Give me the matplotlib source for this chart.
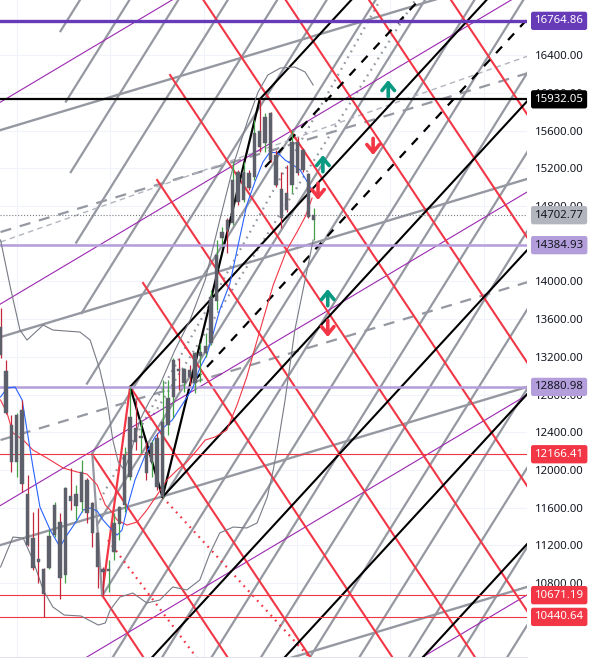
import matplotlib
matplotlib.use("Agg")
from matplotlib import pyplot as plt
import numpy as np

plt.rcParams['font.family'] = ['Noto Sans', 'DejaVu Sans']

# ---- candles (one entry per bar) ----
opens = [13516, 13049, 12476, 12084, 12636, 11744, 11277, 11055, 10949, 10959,
         11309, 11447, 10885, 11723, 11617, 11659, 11893, 11649, 11331, 10949,
         10927, 11129, 11426, 11628, 11925, 12445, 12338, 12190, 12084, 12338,
         11712, 12476, 12773, 13071, 12922, 13060, 12922, 13208, 13240, 13346,
         13792, 14460, 14651, 14620, 15161, 14864, 15150, 15108, 15596, 15468,
         15787, 15341, 14980, 14938, 15023, 15479, 15394, 15139, 14651]
highs = [13718, 13166, 12582, 12600, 12742, 11946, 11553, 11596, 10960, 11362,
         11659, 11543, 11819, 12020, 11840, 12105, 11914, 11660, 11340, 10970,
         11044, 11543, 11620, 12243, 12881, 12742, 12529, 12296, 12317, 12392,
         12954, 12954, 13187, 13187, 13081, 13113, 13250, 13346, 13452, 13909,
         14439, 14577, 14673, 15267, 15182, 15267, 15182, 15712, 15932, 15787,
         15797, 15394, 15161, 15235, 15606, 15532, 15415, 15150, 14779]
lows = [13190, 12590, 11978, 11925, 11765, 11190, 10938, 10800, 10441, 10950,
        11288, 10630, 10800, 11575, 11468, 11553, 11437, 11182, 10747, 10671,
        10705, 11044, 11256, 11553, 11893, 12211, 12179, 11893, 11925, 11787,
        11702, 12370, 12551, 12848, 12827, 12901, 12816, 12933, 13198, 13325,
        13697, 14386, 14301, 14600, 14811, 14842, 14970, 15076, 15373, 15373,
        15267, 15002, 14566, 14736, 14938, 15129, 15161, 14673, 14439]
closes = [13219, 12604, 12084, 12582, 11850, 11203, 10959, 11023, 10683, 11299,
          11628, 10853, 11808, 11670, 11744, 11978, 11543, 11331, 10970, 10917,
          10949, 11437, 11606, 12158, 12561, 12296, 12360, 11967, 12285, 11819,
          12508, 12763, 13166, 13049, 13071, 12986, 13240, 13251, 13315, 13834,
          14280, 14524, 14545, 15076, 14842, 15161, 14991, 15575, 15426, 15744,
          15288, 15023, 14673, 14758, 15479, 15150, 15182, 14683, 14703]

# ---- indicator lines (bar, price) ----
fast_x = [0, 1.2, 2.7, 4.0, 4.9, 6.0, 7.3, 9.2, 11.0, 12.3, 14.2, 15.3, 16.6, 17.9,
          19.0, 20.3, 21.6, 22.5, 23.6, 24.9, 26.8, 28.6, 30.1, 31.8, 33.6, 35.6,
          36.9, 38.2, 39.3, 40.6, 42.5, 44.0, 45.6, 47.1, 48.6, 49.9, 51.4, 52.7,
          54.2, 55.5, 56.6, 57.7]
fast_y = [12773, 12869, 12880, 12742, 12423, 12031, 11606, 11362, 11182, 11309,
          11468, 11575, 11596, 11564, 11468, 11384, 11309, 11362, 11628, 11893,
          12158, 12349, 12445, 12529, 12689, 12869, 13081, 13219, 13431, 13697,
          13983, 14386, 14811, 15055, 15267, 15373, 15362, 15288, 15235, 15182,
          15076, 14970]
slow_x = [0, 1.2, 2.3, 4.2, 6.0, 8.6, 11.6, 14.2, 16.0, 17.9, 19.4, 20.3, 21.6,
          23.4, 25.3, 27.1, 29.0, 30.8, 32.7, 34.5, 36.4, 37.9, 39.7, 41.9, 43.8,
          45.6, 47.1, 48.6, 50.5, 53.0, 54.9, 56.4, 57.7]
slow_y = [12742, 12604, 12392, 12317, 12211, 12126, 12020, 11978, 11956, 11840,
          11628, 11575, 11468, 11415, 11447, 11575, 11734, 11893, 11999, 12084,
          12211, 12317, 12349, 12423, 12689, 12986, 13293, 13590, 13962, 14333,
          14524, 14683, 14885]
upper_x = [0, 1.8, 3.6, 4.9, 7.9, 9.7, 14.7, 16.6, 18.4, 19.7, 20.8, 21.8, 22.9,
           24.0, 25.8, 27.7, 29.5, 32.3, 35.1, 37.9, 40.6, 43.4, 45.8, 47.7, 49.5,
           51.8, 54.5, 56.4, 57.9]
upper_y = [14439, 13941, 13484, 13378, 13537, 13484, 13463, 13378, 13060, 12742,
           12317, 12084, 11999, 12158, 12529, 12742, 12901, 13272, 13590, 14015,
           14651, 15288, 15712, 16010, 16190, 16264, 16275, 16222, 16084]
lower_x = [0, 2.3, 4.2, 6.0, 7.9, 9.7, 11.8, 14.9, 18.1, 19.4, 20.3, 22.1, 24.5,
           27.1, 29.5, 31.9, 34.5, 36.9, 38.8, 40.6, 43.1, 45.6, 47.5, 49.4, 50.5,
           51.2, 52.7, 54.5, 56.4, 57.9]
lower_y = [10970, 11288, 11277, 11044, 10726, 10545, 10460, 10450, 10354, 10376,
           10514, 10651, 10694, 10588, 10620, 10758, 10726, 10832, 11118, 11331,
           11394, 11384, 11437, 11712, 11999, 12211, 12742, 13484, 14015, 14439]

# ---- drawing tools: anchor points (bar, price) ----
black_rays = [(48, 15932), (24, 12881), (30, 11712)]
black_full = [(55.5, 11718), (74, 11341), (92.5, 10901)]
black_dashed = [(49, 15214), (36, 12954)]
black_zigzag = [(24, 12881), (30, 11712), (48, 15932)]
black_slope = 62.2

red_rays = [(18.8, 10671), (17, 12166), (24, 12881), (26.4, 13983), (29, 15076),
            (31.4, 16190), (34, 17293), (36.4, 18397), (39, 19500), (41.4, 20600)]
red_slope = -86
red_dotted = [((30, 11712), -62.5), ((19.9, 11256), -76)]
red_zigzag = [(18.8, 10671), (24, 12881)]
grey_zigzag = [(17, 12166), (18.8, 10671)]

steep_starts = [(11.0, 16646), (12.0, 15898), (12.9, 15150), (13.9, 14402),
                (14.9, 13654), (15.9, 12906), (16.8, 12158), (17.8, 11410),
                (18.8, 10662), (19.7, 9914), (20.7, 9166), (21.7, 8418),
                (22.7, 7670), (23.6, 6922), (24.6, 6174), (25.6, 5426),
                (26.6, 4678), (27.5, 3930)]
steep_slope = 91.7

purple_lines = [(0, 15903), (37, 15023), (55.5, 13516), (55.5, 11362), (92.5, 10503)]
purple_slope = 34.1
shallow_lines = [(0, 15606), (0, 13410), (0, 11203), (74, 10354)]
shallow_slope = 17.2
grey_dashed = [((0, 14524), (97.7, 16211)), ((0, 12317), (97.7, 13994))]
light_dashed = [((0, 14418), (97.7, 16392))]
grey_dotted = [((18.4, 11681), (70.3, 16986)), ((27.7, 12529), (76.8, 16986))]

# ---- horizontal levels ----
level_prices = [16764.86, 15932.05, 14702.77, 14384.93, 12880.98, 12166.41, 10671.19, 10440.64]
level_colors = ['#673ab7', '#000000', '#787b86', '#b39ddb', '#b39ddb', '#f23645', '#f23645', '#f23645']
level_widths = [2.4, 1.6, 0.8, 1.8, 1.8, 0.8, 0.8, 0.8]
level_styles = ['-', '-', ':', '-', '-', '-', '-', '-']
label_text_colors = ['white', 'white', '#131722', '#131722', '#131722', 'white', 'white', 'white']
label_bg = ['#673ab7', '#000000', '#b2b5be', '#b39ddb', '#b39ddb', '#f23645', '#f23645', '#f23645']

up_arrows = [(71.8, 16137), (59.7, 15341), (60.6, 13919)]
down_arrows = [(69.0, 15341), (58.8, 14864), (60.6, 13410)]

price_ticks = list(range(10800, 16401, 400))
time_grid = [3.0, 20.3, 37.6, 54.9, 72.2, 89.6]

X_MIN, X_MAX = -0.1, 97.5
Y_MIN, Y_MAX = 10015, 16986

fig = plt.figure(figsize=(5.96, 6.64), dpi=100)
ax = fig.add_axes([0, 7 / 664, 527 / 596, 657 / 664])
ax.set_xlim(X_MIN, X_MAX)
ax.set_ylim(Y_MIN, Y_MAX)


def ray(start, slope, **kw):
    x0, y0 = start
    xs = np.array([x0, X_MAX + 5])
    ax.plot(xs, y0 + slope * (xs - x0), **kw)


def full(anchor, slope, **kw):
    x0, y0 = anchor
    xs = np.array([X_MIN - 5, X_MAX + 5])
    ax.plot(xs, y0 + slope * (xs - x0), **kw)


# grid
for p in price_ticks:
    ax.axhline(p, color='#f0f3fa', lw=0.8, zorder=0)
for t in time_grid:
    ax.axvline(t, color='#f0f3fa', lw=0.8, zorder=0)

grey = '#9598a1'
for s in steep_starts:
    ray(s, steep_slope, color=grey, lw=1.6, zorder=1, solid_capstyle='butt')
for a in shallow_lines:
    full(a, shallow_slope, color=grey, lw=1.7, zorder=1)
for a, b in grey_dashed:
    ax.plot([a[0], b[0]], [a[1], b[1]], color=grey, lw=1.6, ls=(0, (5, 4)), zorder=1)
for a, b in light_dashed:
    ax.plot([a[0], b[0]], [a[1], b[1]], color='#b2b5be', lw=1.0, ls=(0, (4, 3)), zorder=1)
for a, b in grey_dotted:
    ax.plot([a[0], b[0]], [a[1], b[1]], color=grey, lw=1.6, ls=(0, (0.8, 2.2)), zorder=1)
for a in purple_lines:
    full(a, purple_slope, color='#9c27b0', lw=0.8, zorder=2)

for s in red_rays:
    ray(s, red_slope, color='#f23645', lw=1.5, zorder=2)
for s, sl in red_dotted:
    ray(s, sl, color='#f23645', lw=1.6, ls=(0, (0.8, 2.2)), zorder=2)
ax.plot(*zip(*red_zigzag), color='#f23645', lw=1.6, zorder=2)
ax.plot(*zip(*grey_zigzag), color=grey, lw=1.6, zorder=2)

for s in black_rays:
    ray(s, black_slope, color='black', lw=1.5, zorder=3)
for a in black_full:
    full(a, black_slope, color='black', lw=1.5, zorder=3)
for s in black_dashed:
    ray(s, black_slope, color='black', lw=1.6, ls=(0, (4, 4)), zorder=3)
ax.plot(*zip(*black_zigzag), color='black', lw=1.6, zorder=3)

# horizontal levels
for p, c, w, st in zip(level_prices, level_colors, level_widths, level_styles):
    ax.axhline(p, color=c, lw=w, ls=st, zorder=3)

# indicators
ax.plot(upper_x, upper_y, color='#787b86', lw=0.8, zorder=4)
ax.plot(lower_x, lower_y, color='#787b86', lw=0.8, zorder=4)
ax.plot(slow_x, slow_y, color='#f23645', lw=0.8, zorder=4)
ax.plot(fast_x, fast_y, color='#2962ff', lw=0.8, zorder=4)

# candles
bars = np.arange(len(opens))
o = np.array(opens); c = np.array(closes)
up = c >= o
wick_colors = np.where(up, '#43a047', '#c2283a')
ax.vlines(bars, lows, highs, colors=wick_colors, lw=0.9, zorder=5)
ax.bar(bars, np.maximum(np.abs(c - o), 8), bottom=np.minimum(o, c), width=0.62,
       color='#5d606b', edgecolor='#5d606b', lw=0.3, zorder=6)

# arrows
arrow_style = '->,head_length=0.55,head_width=0.45'
for x, y in up_arrows:
    ax.annotate('', xy=(x, y), xytext=(0, -12), textcoords='offset points',
                arrowprops=dict(arrowstyle=arrow_style, color='#089981', lw=2.6,
                                shrinkA=0, shrinkB=0), zorder=7)
for x, y in down_arrows:
    ax.annotate('', xy=(x, y), xytext=(0, 12), textcoords='offset points',
                arrowprops=dict(arrowstyle=arrow_style, color='#f23645', lw=2.6,
                                shrinkA=0, shrinkB=0), zorder=7)

# axes styling
for side in ['top', 'left', 'right']:
    ax.spines[side].set_visible(False)
ax.spines['bottom'].set_color('#e0e3eb')
ax.set_xticks(time_grid)
ax.set_xticklabels([])
ax.tick_params(axis='x', length=0)
ax.yaxis.tick_right()
ax.set_yticks(price_ticks)
ax.set_yticklabels([f'{p:.2f}' for p in price_ticks], fontsize=8.2, color='#131722')
ax.tick_params(axis='y', length=0, pad=6)

# price labels
for p, tc, bg in zip(level_prices, label_text_colors, label_bg):
    ax.annotate(f'{p:.2f}', xy=(1, p), xycoords=('axes fraction', 'data'),
                xytext=(5.5, 0), textcoords='offset points', ha='left', va='center',
                fontsize=8.2, color=tc, zorder=10, annotation_clip=False,
                bbox=dict(boxstyle='round,pad=0.32,rounding_size=0.2', fc=bg, ec='none'))

fig.savefig('out.png', dpi=100)
